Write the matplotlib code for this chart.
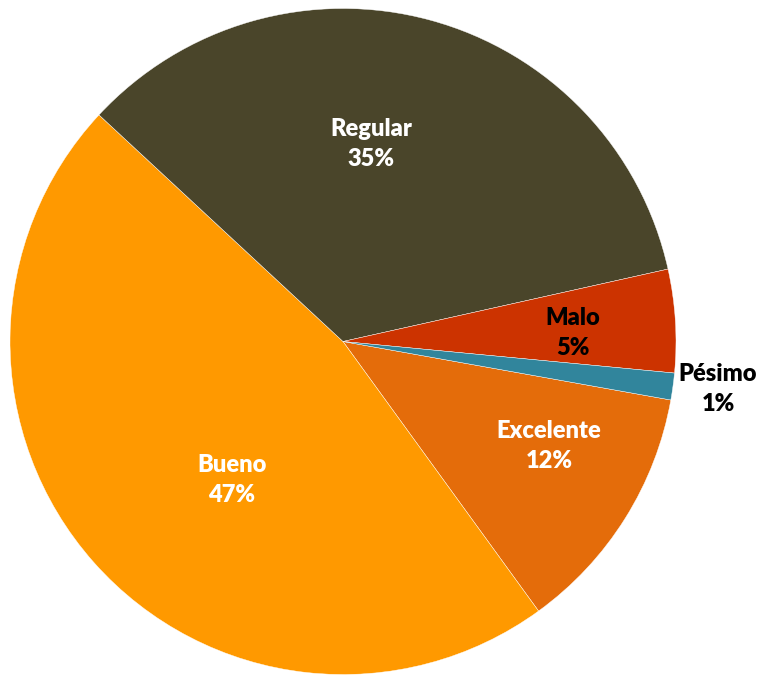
import numpy as np
import matplotlib.pyplot as plt

# Datos (porcentajes)
categorias = ['Excelente', 'Bueno', 'Regular', 'Malo', 'Pésimo']
valores = [12.2, 46.9, 34.6, 5.0, 1.3]
colores = ['#E46C0A', '#FF9900', '#4A452A', '#CC3300', '#31859C']
color_texto = ['white', 'white', 'white', 'black', 'black']

# posicion de cada etiqueta: (angulo en grados, radio relativo)
pos_etiquetas = [(-27.0, 0.694), (-128.8, 0.532), (81.9, 0.599), (2.1, 0.690), (-7.2, 1.135)]

plt.rcParams['font.family'] = ['Lato', 'DejaVu Sans']

fig = plt.figure(figsize=(7.63, 6.75), dpi=100)
ax = fig.add_axes([0, 0, 1, 1])

wedges, _ = ax.pie(valores, colors=colores, startangle=-10.12, counterclock=False,
                   radius=1.0, wedgeprops=dict(edgecolor='white', linewidth=0.3))

total = sum(valores)
for cat, v, c, (ang, r) in zip(categorias, valores, color_texto, pos_etiquetas):
    x = r * np.cos(np.radians(ang))
    y = r * np.sin(np.radians(ang))
    ax.text(x, y, '%s\n%d%%' % (cat, round(100 * v / total)), ha='center', va='center',
            color=c, fontsize=17, fontweight='heavy', linespacing=1.45)

# centro del pastel en (343, 341.5) px, radio 333 px
ax.set_xlim(-343 / 333, (763 - 343) / 333)
ax.set_ylim(-(675 - 341.5) / 333, 341.5 / 333)
ax.set_aspect('equal')
ax.axis('off')

fig.savefig('out.png', dpi=100)
